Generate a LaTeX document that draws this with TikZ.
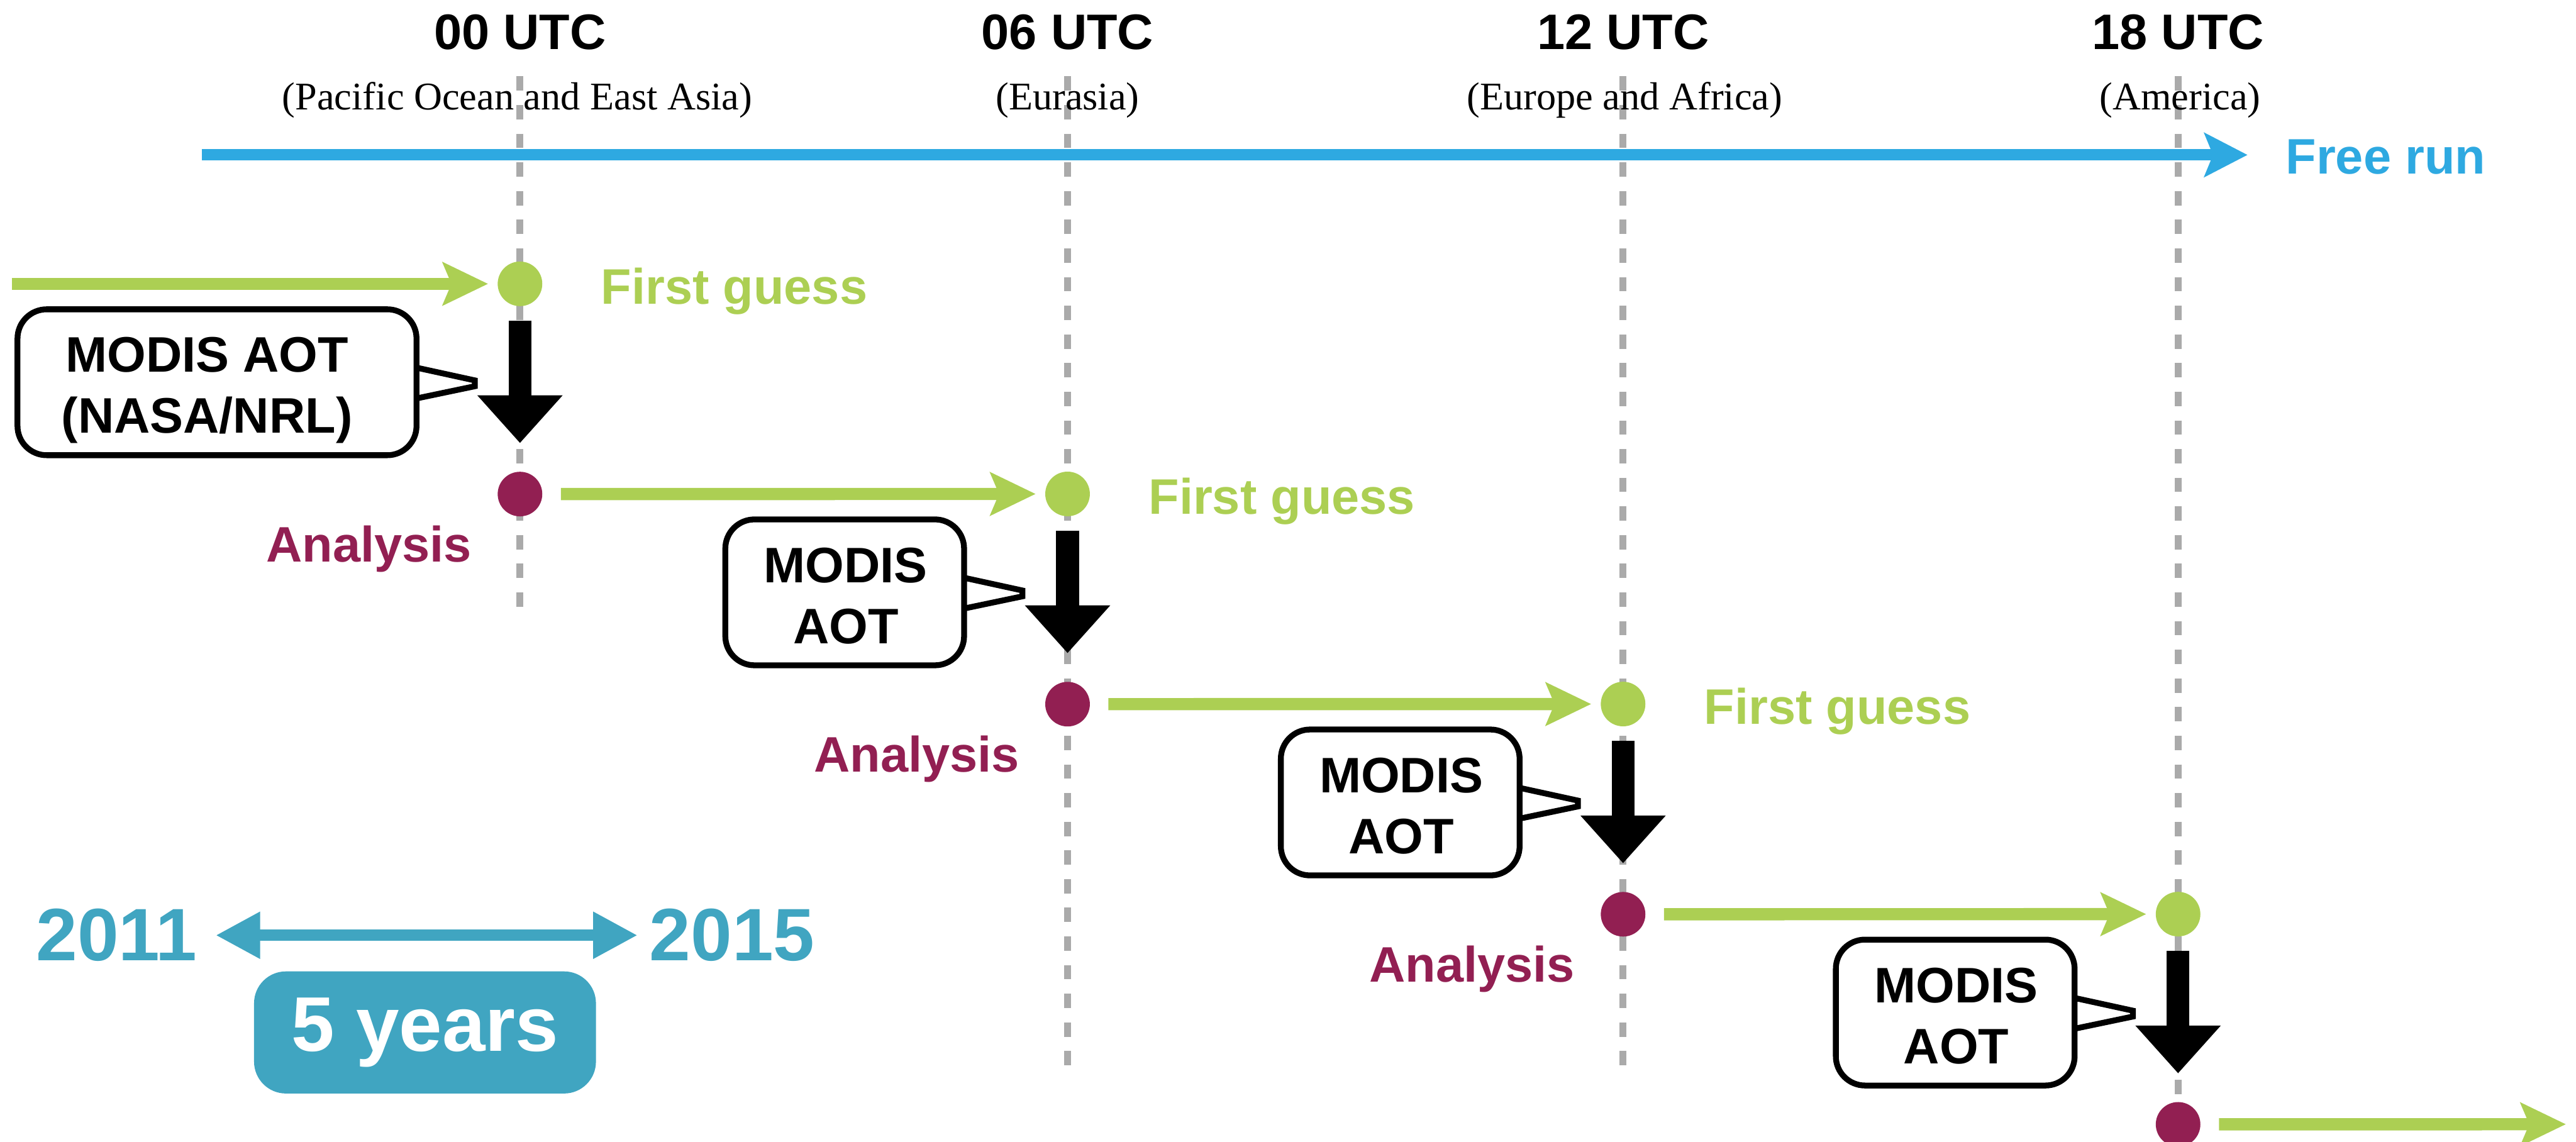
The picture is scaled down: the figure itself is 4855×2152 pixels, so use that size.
\documentclass[tikz,border=0pt]{standalone}
\usepackage{fontspec}
\setmainfont{Liberation Sans}
\newfontfamily\regionfont{Liberation Serif}
\usepackage{tikz}
\definecolor{fgreen}{RGB}{172,207,83}
\definecolor{anred}{RGB}{146,31,82}
\definecolor{runblue}{RGB}{46,169,225}
\definecolor{yrteal}{RGB}{64,165,193}
\definecolor{guidegray}{RGB}{170,170,170}
\usetikzlibrary{arrows.meta,positioning}

\begin{document}
\begin{tikzpicture}[x=0.01cm,y=-0.01cm,
    every node/.style={inner sep=0pt,outer sep=0pt},
    lbl/.style={font=\bfseries\fontsize{26.75pt}{32.7pt}\selectfont},
    fgdot/.style={circle,fill=fgreen,minimum size=0.84cm},
    andot/.style={circle,fill=anred,minimum size=0.84cm},
    guide/.style={guidegray,line width=0.13cm,dash pattern=on 0.27cm off 0.27cm},
    garrow/.style={fgreen,line width=0.23cm,-{Stealth[length=0.85cm,width=0.8cm,inset=0.16cm]},shorten <=0.35cm,shorten >=0.18cm},
    aotarrow/.style={black,line width=0.43cm,-{Triangle[length=0.9cm,width=1.55cm]},shorten <=0.27cm,shorten >=0.54cm},
    runarrow/.style={runblue,line width=0.21cm,-{Stealth[length=0.81cm,width=0.82cm,inset=0.16cm]},shorten >=0.72cm},
    callout/.style={draw=black,line width=0.11cm,fill=white},
    utc/.style={lbl,anchor=base},
    region/.style={font=\regionfont\fontsize{21pt}{25pt}\selectfont,anchor=base},
    guess/.style={lbl,text=fgreen,anchor=base west},
    analysis/.style={lbl,text=anred,anchor=base east},
    yr/.style={text=yrteal,font=\bfseries\fontsize{39.8pt}{48pt}\selectfont,anchor=base},
    yrarrow/.style={yrteal,line width=0.21cm,{Triangle[length=0.84cm,width=0.83cm]}-{Triangle[length=0.84cm,width=0.83cm]},shorten <=0.345cm,shorten >=0.225cm},
    yearbox/.style={fill=yrteal,rounded corners=0.6cm,minimum width=6.44cm,minimum height=2.3cm,text=white,font=\bfseries\fontsize{41.5pt}{50pt}\selectfont},
    node distance=3.96cm
    ]
    \useasboundingbox (0,0) rectangle (4855,2152);

    % time guides
    \draw[guide] (980,144) -- (980,1170);
    \draw[guide] (2012,144) -- (2012,2028);
    \draw[guide] (3059,144) -- (3059,2026);
    \draw[guide] (4105,144) -- (4105,2152);

    \node (t1) [utc] at (980,93) {00 UTC};
    \node (t2) [utc] at (2012,93) {06 UTC};
    \node (t3) [utc] at (3059,93) {12 UTC};
    \node (t4) [utc] at (4105,93) {18 UTC};
    \node (p1) [region] at (975,207) {(Pacific Ocean and East Asia)};
    \node (p2) [region] at (2012,207) {(Eurasia)};
    \node (p3) [region] at (3062,207) {(Europe and Africa)};
    \node (p4) [region] at (4109,207) {(America)};

    % free run
    \coordinate (fr0) at (380,292);
    \node (free) [lbl,text=runblue,anchor=base west] at (4308,328) {Free run};
    \draw[runarrow] (fr0) -- (free.west |- fr0);

    % cycle points
    \node (g1) [fgdot] at (980,535) {};
    \node (a1) [andot,below of=g1] {};
    \node (g2) [fgdot] at (2012,931) {};
    \node (a2) [andot,below of=g2] {};
    \node (g3) [fgdot] at (3059,1327) {};
    \node (a3) [andot,below of=g3] {};
    \node (g4) [fgdot] at (4105,1723) {};
    \node (a4) [andot,below of=g4] {};

    \node (fg1) [guess] at (1133,573) {First guess};
    \node (fg2) [guess] at (2165,969) {First guess};
    \node (fg3) [guess] at (3212,1365) {First guess};
    \node (an1) [analysis] at (889,1059) {Analysis};
    \node (an2) [analysis] at (1921,1455) {Analysis};
    \node (an3) [analysis] at (2968,1851) {Analysis};

    % the forecasts
    \coordinate (gin) at (22,535);
    \coordinate (gout) at (4836,2119);
    \draw[garrow,shorten <=0pt] (gin) -- (g1);
    \draw[garrow] (a1) -- (g2);
    \draw[garrow] (a2) -- (g3);
    \draw[garrow] (a3) -- (g4);
    \draw[garrow,shorten >=0pt] (a4) -- (gout);

    % observations
    \begin{scope}[shift={(g1)}]
      \draw[callout] (-195,216) -- (-195,217) [rounded corners=0.55cm] -- (-195,323) -- (-947,323) -- (-947,48) -- (-195,48) -- (-195,157) [sharp corners] -- (-195,158) -- (-85,182) -- (-85,193) -- cycle;
      \node (m1) [lbl,align=center] at (-590,201) {MODIS AOT\\(NASA/NRL)};
    \end{scope}
    \begin{scope}[shift={(g2)}]
      \draw[callout] (-195,216) -- (-195,217) [rounded corners=0.55cm] -- (-195,323) -- (-645,323) -- (-645,48) -- (-195,48) -- (-195,157) [sharp corners] -- (-195,158) -- (-85,182) -- (-85,193) -- cycle;
      \node (m2) [lbl,align=center] at (-418,192) {MODIS\\AOT};
    \end{scope}
    \begin{scope}[shift={(g3)}]
      \draw[callout] (-195,216) -- (-195,217) [rounded corners=0.55cm] -- (-195,323) -- (-645,323) -- (-645,48) -- (-195,48) -- (-195,157) [sharp corners] -- (-195,158) -- (-85,182) -- (-85,193) -- cycle;
      \node (m3) [lbl,align=center] at (-418,192) {MODIS\\AOT};
    \end{scope}
    \begin{scope}[shift={(g4)}]
      \draw[callout] (-195,216) -- (-195,217) [rounded corners=0.55cm] -- (-195,323) -- (-645,323) -- (-645,48) -- (-195,48) -- (-195,157) [sharp corners] -- (-195,158) -- (-85,182) -- (-85,193) -- cycle;
      \node (m4) [lbl,align=center] at (-418,192) {MODIS\\AOT};
    \end{scope}

    \draw[aotarrow] (g1) -- (a1);
    \draw[aotarrow] (g2) -- (a2);
    \draw[aotarrow] (g3) -- (a3);
    \draw[aotarrow] (g4) -- (a4);

    % period
    \node (y2011) [yr] at (220,1811) {2011};
    \node (y2015) [yr] at (1380,1811) {2015};
    \draw[yrarrow] (y2011.east) -- (y2015.west);
    \node (span) [yearbox] at (801,1946) {5 years};
\end{tikzpicture}
\end{document}
